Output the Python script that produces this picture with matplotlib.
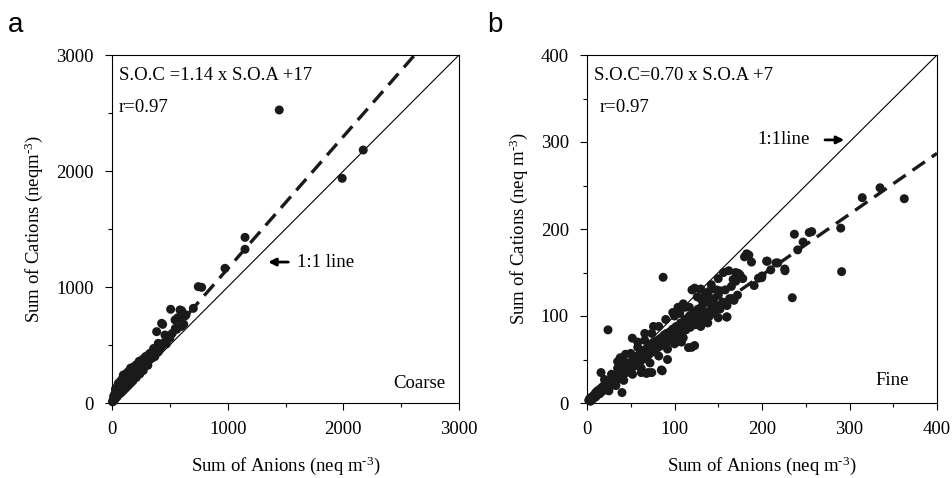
import numpy as np
import matplotlib
matplotlib.use("Agg")
from matplotlib import pyplot as plt
from matplotlib.ticker import MultipleLocator

plt.rcParams['font.family'] = ['Liberation Serif', 'DejaVu Serif']
plt.rcParams['mathtext.fontset'] = 'custom'
plt.rcParams['mathtext.rm'] = 'Liberation Serif'
plt.rcParams['mathtext.it'] = 'Liberation Serif:italic'

# coarse mode: (anions, cations) in neq m-3
coarse_pts = [
    (1446, 2526), (2172, 2181), (1990, 1937), (1150, 1428), (1150, 1325),
    (977, 1161), (746, 1003), (775, 997), (507, 808), (588, 802), (703, 816),
    (602, 796), (631, 750), (568, 735), (640, 760), (438, 678), (429, 687),
    (548, 643), (545, 716), (559, 635), (386, 615), (458, 586), (400, 514),
    (314, 414), (256, 356), (170, 299), (98, 241), (55, 170), (26, 84),
    (5, 10), (8, 15), (12, 20), (15, 30), (18, 35), (22, 28),
    (10, 25), (20, 45), (25, 60), (30, 40), (35, 90), (40, 70), (45, 55),
    (50, 110), (55, 80), (60, 75), (65, 130), (70, 95), (75, 85), (80, 150),
    (85, 110), (90, 100), (95, 170), (100, 125), (105, 115), (110, 190),
    (115, 140), (120, 130), (130, 210), (135, 160), (140, 150), (150, 230),
    (155, 180), (160, 170), (170, 250), (175, 200), (180, 190), (190, 270),
    (200, 230), (210, 220), (220, 290), (230, 260), (240, 250), (250, 320),
    (260, 290), (270, 280), (285, 340), (300, 330), (310, 325), (330, 380),
    (350, 390), (370, 400), (380, 450), (400, 440), (420, 470), (450, 520),
    (470, 510), (500, 560), (520, 600), (600, 660), (620, 680),
    (30, 120), (45, 140), (60, 160), (75, 190), (90, 210), (120, 250),
    (140, 270), (160, 300), (185, 310), (210, 330), (235, 360), (270, 380),
    (290, 400), (330, 430), (360, 470), (15, 60), (40, 100), (65, 95),
]

# fine mode
fine_pts = [
    (2, 3), (3, 5), (4, 2), (5, 6), (6, 4), (7, 8), (8, 6), (9, 10), (10, 7),
    (10, 12), (11, 9), (12, 14), (13, 10), (14, 12), (15, 16), (15, 11),
    (16, 13), (17, 18), (18, 14), (19, 16), (20, 21), (20, 15), (21, 18),
    (22, 20), (23, 17), (24, 24), (25, 19), (25, 22), (26, 26), (27, 21),
    (28, 24), (29, 28), (30, 23), (30, 27), (31, 30), (32, 25), (33, 29),
    (34, 33), (35, 27), (35, 31), (36, 35), (37, 29), (38, 33), (39, 37),
    (40, 31), (40, 36), (41, 39), (42, 34), (43, 38), (44, 42), (45, 35),
    (45, 40), (46, 44), (47, 37), (48, 42), (49, 46), (50, 39), (50, 44),
    (51, 48), (52, 41), (53, 46), (54, 50), (55, 43), (55, 48), (56, 52),
    (57, 45), (58, 50), (59, 55), (60, 47), (60, 52), (61, 57), (62, 49),
    (63, 54), (64, 59), (65, 51), (65, 56), (66, 61), (67, 53), (68, 58),
    (69, 63), (70, 55), (70, 60), (71, 65), (72, 57), (73, 62), (74, 67),
    (75, 59), (75, 64), (76, 69), (77, 61), (78, 66), (79, 71), (80, 63),
    (80, 68), (82, 73), (83, 65), (84, 70), (85, 75), (86, 67), (87, 72),
    (88, 78), (89, 69), (90, 74), (91, 80), (92, 71), (93, 77), (95, 82),
    (95, 73), (97, 79), (98, 85), (100, 76), (100, 82), (102, 88), (104, 79),
    (105, 85), (107, 92), (108, 81), (110, 88), (112, 96), (113, 84),
    (115, 91), (117, 100), (118, 87), (120, 94), (122, 104), (124, 90),
    (125, 97), (127, 108), (128, 93), (130, 100), (132, 112), (134, 96),
    (136, 104), (138, 116), (140, 100), (142, 108), (145, 120), (146, 104),
    (148, 112), (150, 124), (152, 108), (155, 116), (158, 130), (160, 112),
    (163, 120), (165, 134), (168, 118), (170, 140), (172, 124),
    (362.6, 234.8), (334.9, 247.4), (314.6, 236), (291, 151), (290, 201),
    (256.8, 197), (254, 196), (247, 185), (240.8, 176), (237, 194),
    (234.6, 121), (226.3, 152), (218, 161), (205.3, 163), (199.6, 144),
    (182.5, 171.5), (188, 162), (191, 135), (175, 147), (178, 143),
    (87, 144.5), (24, 84), (120, 130), (159.6, 98.8), (119.6, 64), (123, 66),
    (108, 70), (86, 37), (68, 34), (74, 35), (40, 12), (16, 35), (35, 47.6),
    (51.8, 74.5), (206, 163), (226, 154), (216, 161), (210, 153), (173, 149),
    (167, 142), (196, 143.5), (200, 146), (152, 129), (123, 132), (139, 128),
    (131, 118.7), (144, 110), (160, 99), (117, 110), (121, 99), (115, 88),
    (180, 168), (185, 170), (170, 150), (85, 38), (70, 35), (62, 35),
    (92, 50), (106, 70.6), (116, 63.7),
    # wider spread of the main cloud
    (20, 27), (28, 33), (35, 40), (42, 48), (50, 57), (58, 64), (66, 72),
    (74, 80), (82, 88), (90, 96), (98, 104), (104, 110), (110, 114),
    (25, 14), (33, 20), (42, 26), (52, 33), (62, 40), (72, 46), (82, 54),
    (92, 62), (100, 68), (110, 75), (130, 88), (138, 92), (150, 98),
    (100, 100), (106, 103), (112, 110), (126, 122), (130, 131), (135, 126),
    (142, 136), (150, 143), (156, 150), (162, 152), (148, 130), (140, 120),
    (58, 70), (66, 80), (76, 88), (44, 56), (38, 52),
]

coarse_fit = (1.14, 17)
fine_fit = (0.70, 7)

fig = plt.figure(figsize=(9.52, 4.78), dpi=100)
ax1 = fig.add_axes([112 / 952, 75 / 478, 347 / 952, 348 / 478])
ax2 = fig.add_axes([587 / 952, 75 / 478, 350 / 952, 348 / 478])


def panel(ax, pts, fit, lim, major, minor, ylab, eq, lab):
    pts = np.array(pts)
    ax.scatter(pts[:, 0], pts[:, 1], s=42, color='#1a1a1a', edgecolors='none',
               zorder=3, clip_on=False)
    xx = np.array([0, lim])
    ax.plot(xx, xx, color='black', lw=0.8)
    ax.plot(xx, fit[0] * xx + fit[1], color='#1a1a1a', lw=2.4,
            dashes=(4.5, 2.5))
    ax.set_xlim(0, lim)
    ax.set_ylim(0, lim)
    ax.xaxis.set_major_locator(MultipleLocator(major))
    ax.yaxis.set_major_locator(MultipleLocator(major))
    ax.xaxis.set_minor_locator(MultipleLocator(minor))
    ax.yaxis.set_minor_locator(MultipleLocator(minor))
    ax.tick_params(which='major', direction='out', length=5, width=0.8,
                   labelsize=13.5, pad=8)
    ax.tick_params(which='minor', direction='out', length=3, width=0.8)
    for sp in ax.spines.values():
        sp.set_linewidth(0.8)
    ax.set_xlabel('Sum of Anions (neq m$^{\u20103}$)', fontsize=13.5,
                  labelpad=12)
    ax.set_ylabel(ylab, fontsize=13.5, labelpad=8)
    ax.text(0.02, 0.965, eq, transform=ax.transAxes, fontsize=13.5,
            va='top', ha='left')
    ax.text(0.035 if lab == 'b' else 0.02, 0.875, 'r=0.97',
            transform=ax.transAxes, fontsize=13.5, va='top', ha='left')


panel(ax1, coarse_pts, coarse_fit, 3000, 1000, 500,
      'Sum of Cations (neqm$^{\u20103}$)', 'S.O.C =1.14 x S.O.A +17', 'a')
panel(ax2, fine_pts, fine_fit, 400, 100, 50,
      'Sum of Cations (neq m$^{\u20103}$)', 'S.O.C=0.70 x S.O.A +7', 'b')

arrow = dict(arrowstyle='-|>', lw=2, color='black', mutation_scale=11,
             shrinkA=0, shrinkB=0)
ax1.annotate('', xy=(0.45, 0.405), xytext=(0.508, 0.405),
             xycoords='axes fraction', arrowprops=arrow)
ax1.text(0.532, 0.405, '1:1 line', transform=ax1.transAxes,
         fontsize=13.5, va='center', ha='left')
ax1.text(0.96, 0.055, 'Coarse', transform=ax1.transAxes, fontsize=13.5,
         ha='right', va='center')
ax2.annotate('', xy=(0.735, 0.756), xytext=(0.68, 0.756),
             xycoords='axes fraction', arrowprops=arrow)
ax2.text(0.486, 0.756, '1:1line', transform=ax2.transAxes,
         fontsize=13.5, va='center', ha='left')
ax2.text(0.92, 0.065, 'Fine', transform=ax2.transAxes, fontsize=13.5,
         ha='right', va='center')

fig.text(8 / 952, 1 - 25 / 478, 'a', fontsize=20, family='Liberation Sans',
         va='center', ha='left')
fig.text(487 / 952, 1 - 25 / 478, 'b', fontsize=20, family='Liberation Sans',
         va='center', ha='left')

fig.savefig('out.png', dpi=100)
